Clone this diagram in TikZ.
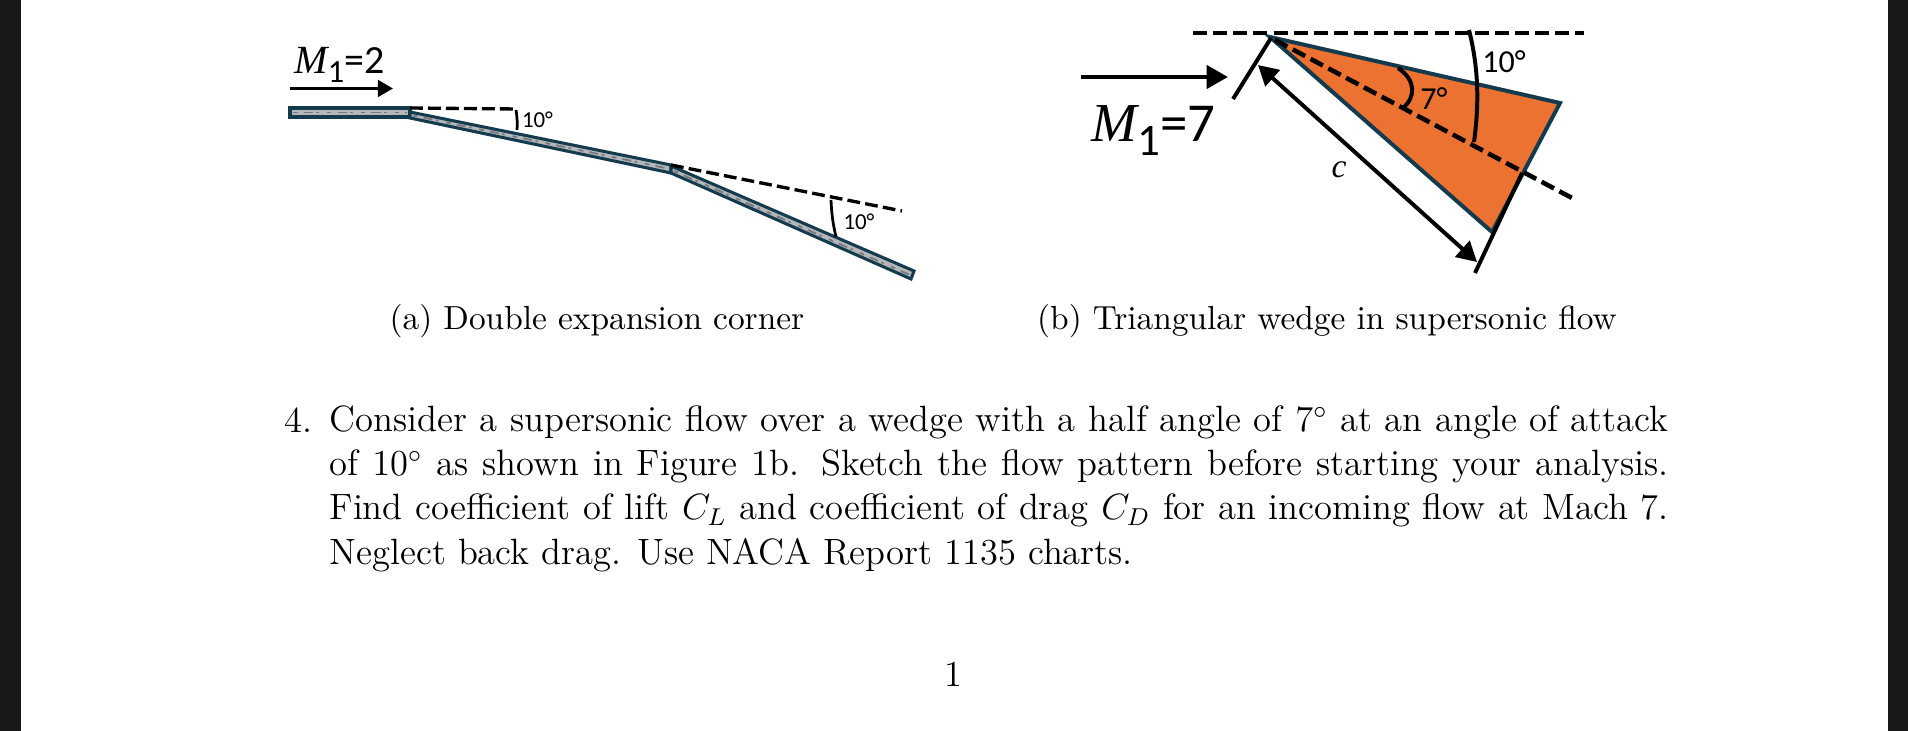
\documentclass[tikz,border=0pt,12pt]{standalone}
\usepackage{fontspec}
\newfontfamily\lab{Carlito}
\newfontfamily\labm{Liberation Serif}
\usetikzlibrary{arrows.meta}
\definecolor{plate}{HTML}{143A4E}
\definecolor{platefill}{HTML}{B4B7BA}
\definecolor{speck}{HTML}{777B7F}
\definecolor{wedge}{HTML}{EC7232}
\definecolor{band}{HTML}{1B1918}
\tikzset{
  px/.style={x=0.32787pt,y=-0.32787pt},
  plateshape/.style={draw=plate,line width=1pt,fill=platefill,line join=miter},
  specks/.style={draw=speck,line width=.6pt,dash pattern=on 1.5pt off 2pt on 3pt off 1.2pt on .8pt off 2.6pt},
  dashln/.style={draw=black,line width=1.1pt,dash pattern=on 4.2pt off 1.7pt},
  dashlb/.style={draw=black,line width=1.5pt,dash pattern=on 4.6pt off 2pt},
  thickln/.style={draw=black,line width=1.3pt},
  thinln/.style={draw=black,line width=.9pt},
  arr/.style={draw=black,line width=1pt,-{Triangle[length=5pt,width=5.5pt]}},
  arrb/.style={draw=black,line width=1.5pt,-{Triangle[length=7pt,width=7.5pt]}},
  capt/.style={inner sep=0pt,anchor=base,font=\fontsize{10.95}{13.6}\selectfont},
  small/.style={inner sep=0pt,font=\lab\fontsize{7.5}{8}\selectfont},
  mid/.style={inner sep=0pt,font=\lab\fontsize{10.5}{11}\selectfont},
}
\begin{document}
\begin{tikzpicture}[px]
\useasboundingbox (0,0) rectangle (1908,731);
\fill[white] (0,0) rectangle (1908,731);
\fill[band] (0,0) rectangle (21,731);
\fill[band] (1888,0) rectangle (1908,731);
% figure a
\coordinate (a1) at (290,108); \coordinate (a2) at (410,108);
\coordinate (a3) at (410,117); \coordinate (a4) at (290,117);
\path[plateshape] (a1) -- (a2) -- (a3) -- (a4) -- cycle;
\draw[specks] (293,112.5) -- (407,112.5);
\coordinate (b1) at (410,112); \coordinate (b2) at (671,165);
\coordinate (b3) at (671,173); \coordinate (b4) at (410,118);
\path[plateshape] (b1) -- (b2) -- (b3) -- (b4) -- cycle;
\draw[specks] (413,115.5) -- (668,168.5);
\coordinate (c1) at (671,166); \coordinate (c2) at (914,271);
\coordinate (c3) at (911,279); \coordinate (c4) at (671,173);
\path[plateshape] (c1) -- (c2) -- (c3) -- (c4) -- cycle;
\draw[specks] (674,171) -- (909,274.5);
\coordinate (d1) at (516,109); \coordinate (d2) at (902,211);
\draw[dashln] (a2) -- (d1);
\draw[dashln] (b2) -- (d2);
\coordinate (e1) at (516,110); \coordinate (e2) at (517,130);
\draw[thinln] (e1) to[bend left=6] (e2);
\coordinate (e3) at (831,200); \coordinate (e4) at (836,237);
\draw[thinln] (e3) to[bend right=5] (e4);
\node[small] (ta1) at (537.5,120) {10°};
\node[small] (ta2) at (859,222) {10°};
\coordinate (f1) at (290,88.5); \coordinate (f2) at (393,88.5);
\draw[arr] (f1) -- (f2);
\node[anchor=base west,inner sep=0pt] (m2) at (294,74) {\fontsize{13.1}{15}\selectfont\labm\itshape M\lab\upshape\raisebox{-.45ex}{\fontsize{10.6}{12}\selectfont 1}=2};
% figure b
\coordinate (w1) at (1270,37); \coordinate (w2) at (1560,103); \coordinate (w3) at (1492,232);
\path[draw=plate,line width=1.3pt,fill=wedge,line join=miter] (w1) -- (w2) -- (w3) -- cycle;
\coordinate (t1) at (1193,33); \coordinate (t2) at (1584,33);
\draw[dashlb] (t1) -- (t2);
\coordinate (l1) at (1271,38); \coordinate (l2) at (1233,99);
\draw[thickln] (l1) -- (l2);
\coordinate (r1) at (1522,173); \coordinate (r2) at (1475,273);
\draw[thickln] (r1) -- (r2);
\coordinate (s1) at (1275,40); \coordinate (s2) at (1572,198);
\draw[dashlb] (s1) -- (s2);
\coordinate (u1) at (1081,77); \coordinate (u2) at (1228,77);
\draw[arrb] (u1) -- (u2);
\coordinate (v1) at (1258,65); \coordinate (v2) at (1477,262);
\draw[arrb,{Triangle[length=6.5pt,width=7pt]}-{Triangle[length=6.5pt,width=7pt]},line width=1.3pt] (v1) -- (v2);
\coordinate (g1) at (1398,68); \coordinate (g2) at (1403,108);
\draw[thickln] (g1) .. controls (1416,80) and (1416,97) .. (g2);
\coordinate (h1) at (1469,30); \coordinate (h2) at (1474,142);
\draw[thickln] (h1) .. controls (1479,70) and (1479,105) .. (h2);
\node[mid] (t10) at (1504,62) {10°};
\node[mid] (t7) at (1434,99) {7°};
\node[inner sep=0pt,font=\labm\itshape\fontsize{11}{12}\selectfont] (tc) at (1339,170) {c};
\node[anchor=base west,inner sep=0pt] (m7) at (1091,142) {\fontsize{18}{20}\selectfont\labm\itshape M\lab\upshape\raisebox{-.5ex}{\fontsize{14.8}{16}\selectfont 1}=7};
% captions
\node[capt] (ca) at (597,330) {(a) Double expansion corner};
\node[capt] (cb) at (1327,330) {(b) Triangular wedge in supersonic flow};
% problem text
\node[anchor=base west,inner sep=0pt,font=\fontsize{12}{14.5}\selectfont] (num) at (284,433) {4.};
\node[anchor=north west,inner sep=0pt,text width=439pt,align=justify,font=\fontsize{12}{14.5}\selectfont] (body) at (329,405) {Consider a supersonic flow over a wedge with a half angle of $7^\circ$ at an angle of attack of $10^\circ$ as shown in Figure 1b.  Sketch the flow pattern before starting your analysis. Find coefficient of lift $C_L$ and coefficient of drag $C_D$ for an incoming flow at Mach 7. Neglect back drag.  Use NACA Report 1135 charts.};
\node[capt,font=\fontsize{12}{14.5}\selectfont] (pg) at (953,687) {1};
\end{tikzpicture}
\end{document}
